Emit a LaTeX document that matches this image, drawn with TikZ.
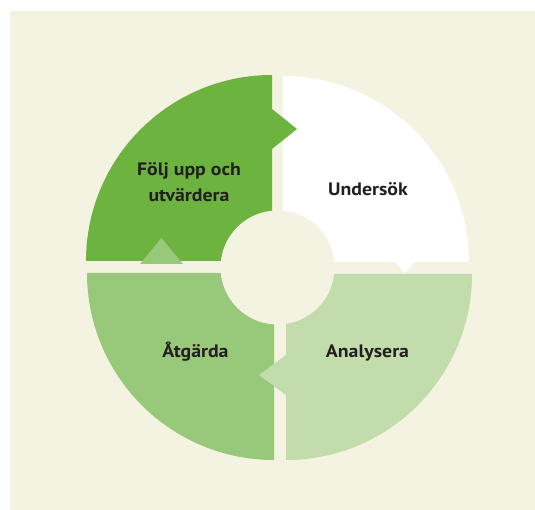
\documentclass[tikz,border=0pt]{standalone}
\usepackage{fontspec}
\setmainfont[FakeStretch=1.1]{PT Sans}
\definecolor{bgbeige}{HTML}{F4F2E1}
\definecolor{darkgreen}{HTML}{6DB33F}
\definecolor{midgreen}{HTML}{98C879}
\definecolor{lightgreen}{HTML}{C2DCAB}
\definecolor{txt}{HTML}{231F20}
\tikzset{
  lbl/.style={font=\fontsize{18}{25.5}\selectfont\bfseries, text=txt, inner sep=0pt, anchor=base, align=center},
}
\begin{document}
\begin{tikzpicture}[x=1pt,y=1pt]
\useasboundingbox (0,0) rectangle (535,510);
\fill[white] (0,0) rectangle (535,510);
\fill[bgbeige] (10,0) rectangle (535,499);
% top-right quadrant (white) with arrow down
\fill[white] (283,248) -- (283,434) arc[start angle=90, end angle=0, radius=186]
  -- (415,248) -- (405,236.5) -- (395,248) -- cycle;
% bottom-left quadrant (mid green)
\fill[midgreen] (274,237) -- (274,50) arc[start angle=-90, end angle=-180, radius=187] -- cycle;
% bottom-right quadrant (light green) with arrow to the left
\fill[lightgreen] (286,236) -- (472,236) arc[start angle=0, end angle=-90, radius=186]
  -- (286,115) -- (259,135) -- (286,155) -- cycle;
% top-left quadrant (dark green) with arrow to the right
\fill[darkgreen] (272,249) -- (86,249) arc[start angle=180, end angle=90, radius=186]
  -- (272,401) -- (297,381) -- (272,361) -- cycle;
% arrow up from bottom-left
\fill[midgreen] (140,246) -- (161.5,272) -- (183,246) -- cycle;
% centre hole
\fill[bgbeige] (277.5,242.5) circle[radius=57];
% labels
\node[lbl] (folj) at (189,308.5) {Följ upp och\\utvärdera};
\node[lbl] (undersok) at (368,314) {Undersök};
\node[lbl] (analysera) at (367.5,152) {Analysera};
\node[lbl] (atgarda) at (195.5,152.5) {Åtgärda};
\end{tikzpicture}
\end{document}
